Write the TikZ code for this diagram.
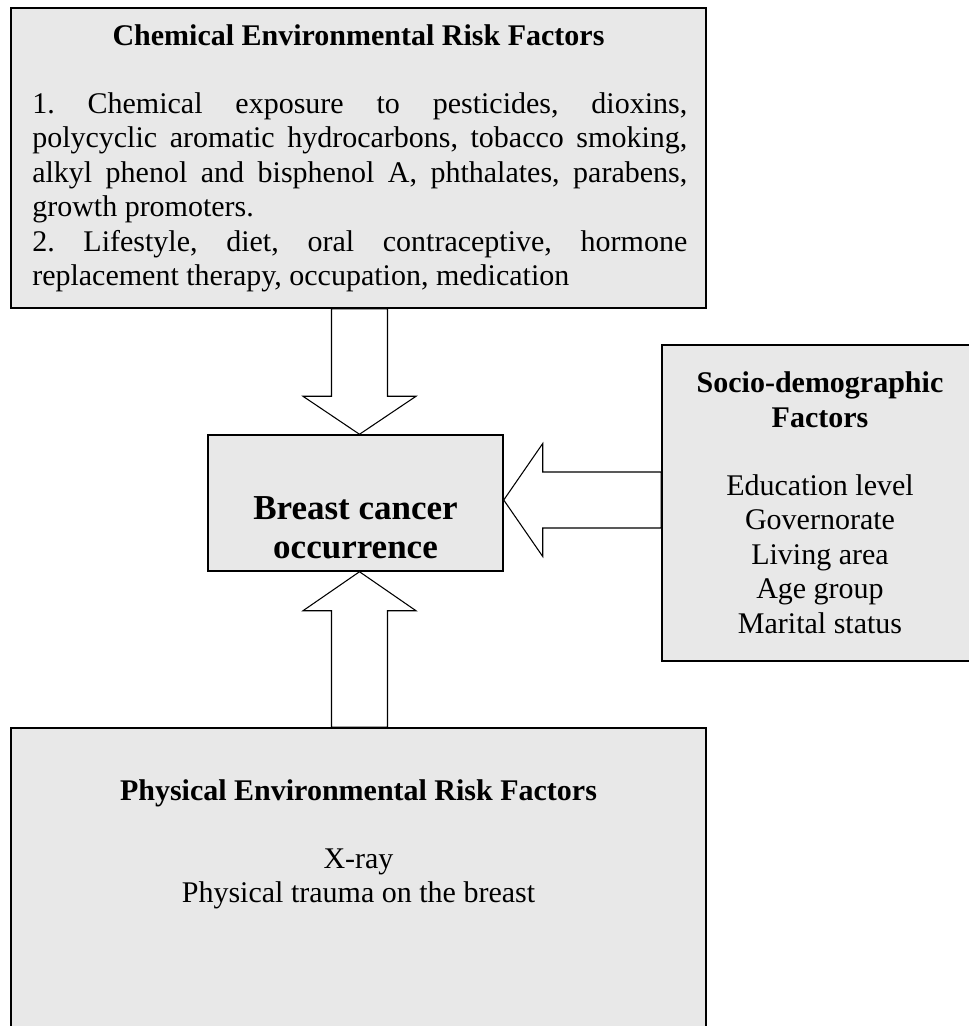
\documentclass[tikz,border=0pt]{standalone}
\usepackage{fontspec}
\setmainfont{Liberation Serif}
\usetikzlibrary{calc}
\frenchspacing
\definecolor{boxfill}{RGB}{232,232,232}
\tikzset{
  box/.style={draw=black, fill=boxfill, line width=1.1pt, inner sep=0pt},
  txt/.style={inner sep=0pt, anchor=base, font=\fontsize{22.5}{25.875}\selectfont},
  btxt/.style={txt, font=\fontsize{22.5}{25.875}\selectfont\bfseries},
  bigtxt/.style={txt, font=\fontsize{26.25}{29.5}\selectfont\bfseries},
  barrow/.style={draw=black, fill=white, line width=0.8pt, line join=miter}
}
\begin{document}
\begin{tikzpicture}[x=0.75pt,y=-0.75pt]
\clip (0,0) rectangle (969,1026);
\fill[white] (0,0) rectangle (969,1026);

% boxes
\node[box, minimum width=521.25pt, minimum height=225pt] (chem) at (358.5,158) {};
\node[box, minimum width=221.25pt, minimum height=102pt] (cen) at (355.5,503) {};
\node[box, minimum width=237pt, minimum height=237pt] (soc) at (820,503) {};
\node[box, minimum width=521.25pt, minimum height=234pt] (phy) at (358.5,884) {};

% chemical box text
\node[btxt] (chemT) at (358.5,45) {Chemical Environmental Risk Factors};
\node[txt, anchor=base west] (c1) at (32,113) {\makebox[491.25pt][s]{1. Chemical exposure to pesticides, dioxins,}};
\node[txt, anchor=base west] (c2) at (32,147.5) {\makebox[491.25pt][s]{polycyclic aromatic hydrocarbons, tobacco smoking,}};
\node[txt, anchor=base west] (c3) at (32,182) {\makebox[491.25pt][s]{alkyl phenol and bisphenol A, phthalates, parabens,}};
\node[txt, anchor=base west] (c4) at (32,216.5) {growth promoters.};
\node[txt, anchor=base west] (c5) at (32,251) {\makebox[491.25pt][s]{2. Lifestyle, diet, oral contraceptive, hormone}};
\node[txt, anchor=base west] (c6) at (32,285.5) {replacement therapy, occupation, medication};

% center text
\node[bigtxt] (b1) at (355.5,519) {Breast cancer};
\node[bigtxt] (b2) at (355.5,558) {occurrence};

% socio text
\node[btxt] (s1) at (820,392) {Socio-demographic};
\node[btxt] (s2) at (820,427) {Factors};
\node[txt] (s3) at (820,495) {Education level};
\node[txt] (s4) at (820,529.5) {Governorate};
\node[txt] (s5) at (820,564) {Living area};
\node[txt] (s6) at (820,598.5) {Age group};
\node[txt] (s7) at (820,633) {Marital status};

% physical text
\node[btxt] (p1) at (358.5,800) {Physical Environmental Risk Factors};
\node[txt] (p2) at (358.5,868) {X-ray};
\node[txt] (p3) at (358.5,902.5) {Physical trauma on the breast};

% block arrows
\coordinate (ta) at ([xshift=3pt]cen.north);
\draw[barrow] (ta) -- ($(ta)+(-56.5,-38)$) -- ($(ta)+(-28,-38)$)
  -- ({$(ta)+(-28,0)$} |- chem.south) -- ({$(ta)+(28,0)$} |- chem.south)
  -- ($(ta)+(28,-38)$) -- ($(ta)+(56.5,-38)$) -- cycle;

\coordinate (ba) at ([xshift=3pt]cen.south);
\draw[barrow] (ba) -- ($(ba)+(-56.5,39)$) -- ($(ba)+(-28,39)$)
  -- ({$(ba)+(-28,0)$} |- phy.north) -- ({$(ba)+(28,0)$} |- phy.north)
  -- ($(ba)+(28,39)$) -- ($(ba)+(56.5,39)$) -- cycle;

\coordinate (ra) at ([yshift=2.25pt]cen.east);
\draw[barrow] (ra) -- ($(ra)+(39,-56.5)$) -- ($(ra)+(39,-28)$)
  -- ({$(ra)+(0,-28)$} -| soc.west) -- ({$(ra)+(0,28)$} -| soc.west)
  -- ($(ra)+(39,28)$) -- ($(ra)+(39,56.5)$) -- cycle;
\end{tikzpicture}
\end{document}
